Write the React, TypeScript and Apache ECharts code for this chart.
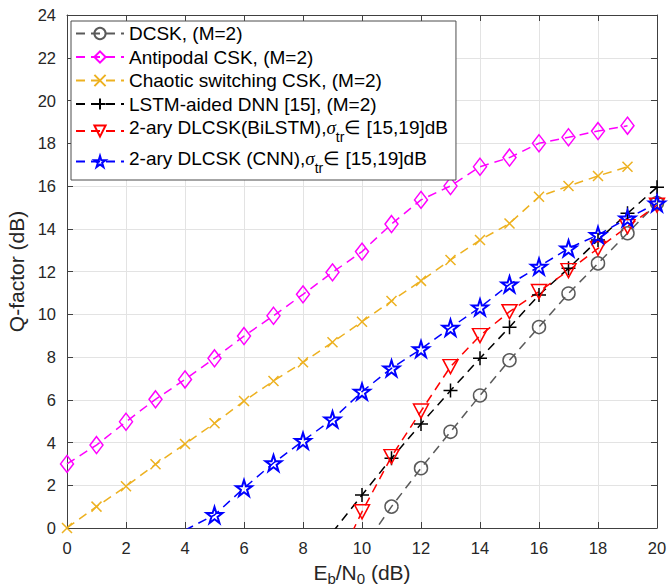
import React, { useEffect, useRef } from "react";
import * as echarts from "echarts";

// ---- data ----
const xTicks = [0, 2, 4, 6, 8, 10, 12, 14, 16, 18, 20];
const yTicks = [0, 2, 4, 6, 8, 10, 12, 14, 16, 18, 20, 22, 24];

const seriesNames = [
  "DCSK, (M=2)",
  "Antipodal CSK, (M=2)",
  "Chaotic switching CSK, (M=2)",
  "LSTM-aided DNN [15], (M=2)",
  "2-ary DLCSK(BiLSTM),σtr∈ [15,19]dB",
  "2-ary DLCSK (CNN),σtr∈ [15,19]dB",
];

// DCSK: x = 10..20
const dcskStart = 10;
const dcsk = [-1.0, 1.0, 2.8, 4.5, 6.2, 7.85, 9.4, 10.97, 12.38, 13.79, 15.2];
// Antipodal CSK: x = 0..19
const antipodalStart = 0;
const antipodal = [3.0, 3.88, 4.97, 6.02, 6.95, 7.94, 8.98, 9.93, 10.93, 11.96, 12.93, 14.22, 15.35, 16.0, 16.9, 17.33, 18.0, 18.28, 18.57, 18.82];
// Chaotic switching CSK: x = 0..19
const switchingStart = 0;
const switching = [0.0, 1.0, 1.95, 2.98, 3.93, 4.9, 5.94, 6.88, 7.75, 8.69, 9.65, 10.62, 11.56, 12.54, 13.47, 14.25, 15.5, 16.0, 16.47, 16.9];
// LSTM-aided DNN: x = 9..20
const lstmStart = 9;
const lstm = [-0.2, 1.54, 3.26, 4.87, 6.43, 7.94, 9.39, 10.9, 12.15, 13.47, 14.72, 15.94];
// BiLSTM: x = 9..20
const bilstmStart = 9;
const bilstm = [-2.1, 0.76, 3.34, 5.47, 7.55, 9.0, 10.12, 11.06, 12.04, 13.08, 14.1, 15.1];
// CNN: x = 4..20
const cnnStart = 4;
const cnn = [-0.1, 0.61, 1.87, 3.04, 4.08, 5.08, 6.38, 7.47, 8.37, 9.37, 10.32, 11.4, 12.23, 13.08, 13.71, 14.49, 15.19];

const pairs = (start: number, vals: number[]) => vals.map((v, i) => [start + i, v]);

const FONT = "Liberation Sans, Arial, Helvetica, sans-serif";
const SERIF = "Liberation Serif, Times New Roman, serif";
const STAR = "path://M10,0L12.25,6.91L19.51,6.91L13.63,11.18L15.88,18.09L10,13.82L4.12,18.09L6.37,11.18L0.49,6.91L7.75,6.91Z";
const XMARK = "path://M0,0L10,10M0,10L10,0";
const PLUS = "path://M5,0L5,10M0,5L10,5";
const DASH = [9, 6];
const AXIS = "#404040";

export default function App() {
  const ref = useRef<HTMLDivElement>(null);
  useEffect(() => {
    if (!ref.current) return;
    const chart = echarts.init(ref.current, null, { renderer: "svg" });

    const mk = (
      name: string,
      data: number[][],
      color: string,
      symbol: string,
      symbolSize: any,
      extra: any = {}
    ) => ({
      name,
      type: "line",
      data,
      symbol,
      symbolSize,
      showAllSymbol: true,
      clip: true,
      lineStyle: { color, width: 1.5, type: DASH },
      itemStyle: { color: "rgba(0,0,0,0)", borderColor: color, borderWidth: 1.5 },
      emphasis: { disabled: true },
      ...extra,
    });

    const sideAxis = (extra: any) => ({
      type: "value",
      axisLine: { show: true, onZero: false, lineStyle: { color: AXIS, width: 1 } },
      axisTick: { show: true, inside: true, length: 6, lineStyle: { color: AXIS } },
      axisLabel: { show: false },
      splitLine: { show: false },
      ...extra,
    });

    const option: any = {
      animation: false,
      backgroundColor: "#fff",
      textStyle: { fontFamily: FONT },
      grid: {
        left: 67,
        right: 13,
        top: 15,
        bottom: 59,
        containLabel: false,
        outerBoundsMode: "none",
      },
      legend: {
        orient: "vertical",
        left: 71,
        top: 21,
        itemWidth: 48,
        itemHeight: 14,
        itemGap: 4.5,
        padding: [3, 8, 5.5, 4],
        backgroundColor: "#fff",
        borderColor: "#4d4d4d",
        borderWidth: 1,
        selectedMode: false,
        data: seriesNames,
        textStyle: {
          fontSize: 19,
          color: "#000",
          fontFamily: FONT,
          rich: {
            n: { fontSize: 19, color: "#000", fontFamily: FONT },
            t: { fontSize: 19, color: "#000", fontFamily: FONT, verticalAlign: "top" },
            s: { fontSize: 19, color: "#000", fontFamily: SERIF, fontStyle: "italic", verticalAlign: "top" },
            sub: { fontSize: 14, color: "#000", fontFamily: FONT, padding: [12, 0, 0, 0], verticalAlign: "top" },
          },
        },
        formatter: (name: string) => {
          const i = name.indexOf("σtr");
          if (i < 0) return `{n|${name}}`;
          return `{t|${name.slice(0, i)}}{s|σ}{sub|tr}{t|${name.slice(i + 3)}}`;
        },
      },
      xAxis: [
        {
          type: "value",
          min: 0,
          max: 20,
          interval: 2,
          position: "bottom",
          axisLine: { show: true, onZero: false, lineStyle: { color: AXIS, width: 1 } },
          axisTick: { show: true, inside: true, length: 6, lineStyle: { color: AXIS } },
          axisLabel: {
            color: "#262626",
            fontSize: 16.5,
            fontFamily: FONT,
            margin: 11,
            formatter: (v: number) => (xTicks.includes(v) ? String(v) : ""),
          },
          splitLine: { show: true, lineStyle: { color: "#e3e3e3", width: 1 } },
          name: "{a|E}{b|b}{a|/N}{b|0}{a| (dB)}",
          nameLocation: "middle",
          nameGap: 30.5,
          nameTextStyle: {
            rich: {
              a: { fontSize: 21, color: "#262626", fontFamily: FONT },
              b: { fontSize: 15, color: "#262626", fontFamily: FONT, padding: [12, 0, 0, 0] },
            },
          },
        },
        sideAxis({ min: 0, max: 20, interval: 2, position: "top" }),
      ],
      yAxis: [
        {
          type: "value",
          min: 0,
          max: 24,
          interval: 2,
          position: "left",
          axisLine: { show: true, onZero: false, lineStyle: { color: AXIS, width: 1 } },
          axisTick: { show: true, inside: true, length: 6, lineStyle: { color: AXIS } },
          axisLabel: {
            color: "#262626",
            fontSize: 16.5,
            fontFamily: FONT,
            margin: 11,
            formatter: (v: number) => (yTicks.includes(v) ? String(v) : ""),
          },
          splitLine: { show: true, lineStyle: { color: "#e3e3e3", width: 1 } },
          name: "Q-factor (dB)",
          nameLocation: "middle",
          nameGap: 36,
          nameTextStyle: { fontSize: 21, color: "#262626", fontFamily: FONT },
        },
        sideAxis({ min: 0, max: 24, interval: 2, position: "right" }),
      ],
      series: [
        mk(seriesNames[0], pairs(dcskStart, dcsk), "#5a5a5a", "circle", 13),
        mk(seriesNames[1], pairs(antipodalStart, antipodal), "#ff00ff", "diamond", [13, 17]),
        mk(seriesNames[2], pairs(switchingStart, switching), "#edb120", XMARK, 10),
        mk(seriesNames[3], pairs(lstmStart, lstm), "#000000", PLUS, 14),
        mk(seriesNames[4], pairs(bilstmStart, bilstm), "#ff0000", "triangle", [15, 14], { symbolRotate: 180 }),
        mk(seriesNames[5], pairs(cnnStart, cnn), "#0000ff", STAR, 16, {
          itemStyle: { color: "rgba(0,0,0,0)", borderColor: "#0000ff", borderWidth: 2 },
        }),
      ],
    };
    chart.setOption(option);
    return () => chart.dispose();
  }, []);
  return (
    <div
      ref={ref}
      style={{ position: "absolute", left: 0, top: 0, width: 670, height: 587 }}
    />
  );
}
